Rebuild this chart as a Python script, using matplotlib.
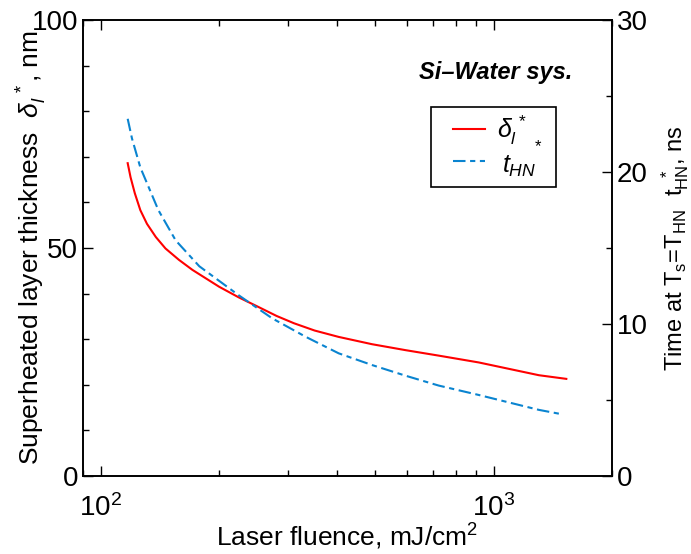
import matplotlib
matplotlib.use("Agg")
import matplotlib.pyplot as plt
from matplotlib.patches import Rectangle
from matplotlib.ticker import FixedLocator, NullFormatter

plt.rcParams['font.family'] = ['Liberation Sans', 'DejaVu Sans']
plt.rcParams['mathtext.fontset'] = 'custom'
plt.rcParams['mathtext.rm'] = 'Liberation Sans'
plt.rcParams['mathtext.it'] = 'Liberation Sans:italic'
plt.rcParams['mathtext.bf'] = 'Liberation Sans:bold'

# superheated layer thickness, nm (left axis)
fluence_d = [117, 119, 122, 126, 131, 138, 146, 158, 171, 200, 224, 250, 280, 310, 350, 403, 490,
             596, 724, 916, 1303, 1530]
delta_l = [68.6, 65.5, 62.0, 58.3, 55.3, 52.4, 49.9, 47.4, 45.2, 41.5, 39.2, 37.2, 35.1, 33.5, 31.9,
           30.5, 28.9, 27.6, 26.4, 24.9, 22.1, 21.3]

# time at Ts = THN, ns (right axis)
fluence_t = [117, 120, 126, 140, 155, 178, 224, 273, 332, 403, 490, 596, 724, 916, 1303, 1500]
t_hn = [23.5, 22.2, 20.3, 17.5, 15.5, 13.8, 11.9, 10.37, 9.16, 8.07, 7.3, 6.6, 5.95, 5.33, 4.35, 4.05]

red = '#ff0000'
blue = '#0a84d0'
dash = (6, 2.2, 2.5, 2.2)

fig = plt.figure(figsize=(6.91, 5.54), dpi=100)
ax = fig.add_axes([0.120, 0.1408, 0.7657, 0.8231])
ax2 = ax.twinx()

ax.plot(fluence_d, delta_l, color=red, lw=1.5)
ax2.plot(fluence_t, t_hn, color=blue, lw=1.5, dashes=dash)

ax.set_xscale('log')
ax.set_xlim(90, 2000)
ax.set_ylim(0, 100)
ax2.set_ylim(0, 30)

ax.set_yticks([0, 50, 100])
ax.yaxis.set_minor_locator(FixedLocator(range(10, 100, 10)))
ax2.set_yticks([0, 10, 20, 30])
ax2.yaxis.set_minor_locator(FixedLocator([5, 15, 25]))
ax.xaxis.set_minor_formatter(NullFormatter())

ax.tick_params(which='both', direction='in', top=True, labelsize=20, width=1)
ax.tick_params(which='major', length=7)
ax.tick_params(which='minor', length=4)
ax.tick_params(axis='x', pad=13)
ax2.tick_params(which='both', direction='in', labelsize=20, width=1)
ax2.tick_params(which='major', length=7)
ax2.tick_params(which='minor', length=4)
for a in (ax, ax2):
    for s in a.spines.values():
        s.set_linewidth(1.2)

ax.set_xlabel(r'Laser fluence, mJ/cm$^2$', fontsize=19, labelpad=0)
ax.set_ylabel(r'Superheated layer thickness  $\delta_l^{\ *}$, nm', fontsize=19)
ax.yaxis.set_label_coords(-0.064, 0.5)
ax2.set_ylabel(r'Time at T$_\mathrm{s}$=T$_\mathrm{HN}$  t$_\mathrm{HN}^{\ \ *}$, ns',
               fontsize=17)
ax2.yaxis.set_label_coords(1.09, 0.5)

ax.text(0.925, 0.885, 'Si\u2013Water sys.', transform=ax.transAxes, fontsize=17,
        fontweight='bold', fontstyle='italic', ha='right', va='center')

# legend box drawn by hand to match the original layout
ax.add_patch(Rectangle((0.658, 0.634), 0.236, 0.175, transform=ax.transAxes,
                       facecolor='white', edgecolor='black', lw=1.2, zorder=5))
ax.plot([0.699, 0.759], [0.761, 0.761], transform=ax.transAxes, color=red, lw=1.5, zorder=6)
ax.plot([0.699, 0.759], [0.691, 0.691], transform=ax.transAxes, color=blue, lw=1.5,
        dashes=dash, zorder=6)
ax.text(0.783, 0.758, r'$\delta_l^{\,*}$', transform=ax.transAxes, fontsize=18,
        va='center', ha='left', zorder=7)
ax.text(0.792, 0.680, r'$t_{HN}$', transform=ax.transAxes, fontsize=18,
        va='center', ha='left', zorder=7)
ax.text(0.860, 0.722, '*', transform=ax.transAxes, fontsize=12,
        va='center', ha='center', zorder=7)

fig.savefig('out.png', dpi=100)
